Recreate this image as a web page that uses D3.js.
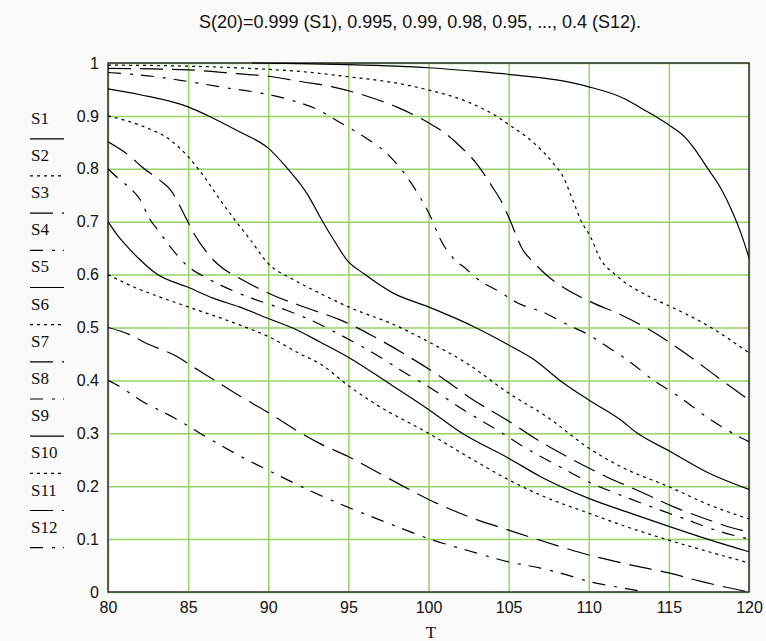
<!DOCTYPE html>
<html>
<head>
<meta charset="utf-8">
<script src="https://cdn.jsdelivr.net/npm/d3@7"></script>
<style>
  body { margin: 0; background: #fafafa; }
  svg { display: block; }
</style>
</head>
<body>
<div id="chart"></div>
<script>
// values: [T, S(T)]
var tTicks = [80, 85, 90, 95, 100, 105, 110, 115, 120];
var sTicks = [0, 0.1, 0.2, 0.3, 0.4, 0.5, 0.6, 0.7, 0.8, 0.9, 1];
var seriesNames = ["S1", "S2", "S3", "S4", "S5", "S6", "S7", "S8", "S9", "S10", "S11", "S12"];

var s1 = [[89, 1.0], [92, 0.999], [95, 0.997], [98, 0.994], [100, 0.991], [103, 0.984], [105.5, 0.977],
  [108, 0.968], [110, 0.955], [112.2, 0.933], [113.2, 0.916], [114, 0.902], [115, 0.883], [116, 0.86],
  [116.5, 0.842], [117.35, 0.804], [118.3, 0.76], [119, 0.716], [119.5, 0.678], [120, 0.632]];
var s2 = [[80, 0.996], [85, 0.994], [90, 0.988], [92, 0.984], [95, 0.974], [98, 0.962], [100, 0.949],
  [102.4, 0.927], [104.1, 0.902], [104.9, 0.886], [106.6, 0.848], [107.8, 0.81], [108.4, 0.785],
  [109, 0.741], [109.55, 0.70], [110.1, 0.672], [110.7, 0.631], [111.7, 0.599], [113.8, 0.558],
  [115, 0.541], [117.35, 0.505], [120, 0.452]];
var s3 = [[80, 0.99], [85, 0.987], [88, 0.98], [90, 0.975], [92, 0.965], [94, 0.955], [96.6, 0.933],
  [98, 0.917], [100, 0.887], [101, 0.868], [102.2, 0.836], [103, 0.81], [104, 0.765], [104.5, 0.741],
  [105, 0.709], [105.9, 0.646], [106.5, 0.625], [107.6, 0.593], [108.2, 0.58], [110, 0.55],
  [112, 0.524], [114, 0.492], [116, 0.452], [118, 0.407], [120, 0.363]];
var s4 = [[80, 0.982], [83, 0.974], [85, 0.965], [87.4, 0.953], [89, 0.946], [91.4, 0.93], [93, 0.913],
  [94.4, 0.889], [95.8, 0.864], [97.4, 0.829], [98.4, 0.795], [99.4, 0.75], [100.2, 0.705],
  [100.7, 0.669], [101.6, 0.629], [102.3, 0.612], [103, 0.593], [104.4, 0.568], [105.6, 0.546],
  [107.3, 0.527], [108.5, 0.508], [110, 0.486], [111.3, 0.461], [112.7, 0.432], [114, 0.401],
  [115.5, 0.372], [117.5, 0.328], [119.6, 0.29], [120, 0.284]];
var s5 = [[80, 0.951], [82, 0.94], [85, 0.917], [86.4, 0.898], [88.2, 0.87], [90, 0.839], [91.1, 0.804],
  [92.4, 0.754], [93.4, 0.70], [94.1, 0.665], [94.9, 0.628], [96, 0.601], [97.8, 0.565], [100, 0.539],
  [102.8, 0.502], [105, 0.467], [106.6, 0.439], [108.2, 0.40], [110, 0.363], [112, 0.325],
  [113, 0.301], [115, 0.267], [117.35, 0.227], [120, 0.194]];
var s6 = [[80, 0.9], [82.2, 0.88], [83.9, 0.854], [85, 0.823], [86, 0.785], [87, 0.741], [88, 0.70],
  [88.9, 0.665], [90, 0.621], [91.6, 0.59], [93.2, 0.565], [95, 0.539], [98.1, 0.502], [100, 0.473],
  [102.4, 0.432], [105, 0.376], [107.4, 0.331], [110, 0.272], [112.2, 0.234], [115, 0.199],
  [117.5, 0.165], [120, 0.138]];
var s7 = [[80, 0.851], [81.4, 0.823], [82.1, 0.804], [83.2, 0.779], [83.9, 0.76], [84.9, 0.705],
  [85.3, 0.681], [86.3, 0.637], [86.8, 0.621], [88.2, 0.593], [89, 0.58], [90.3, 0.561], [92.5, 0.536],
  [94.6, 0.513], [96.4, 0.486], [98.6, 0.448], [100.7, 0.408], [102.8, 0.363], [104.9, 0.325],
  [107, 0.284], [109, 0.25], [111.1, 0.218], [113.2, 0.19], [115.3, 0.161], [117.4, 0.137],
  [119.5, 0.117], [120, 0.114]];
var s8 = [[80, 0.8], [80.75, 0.779], [81.4, 0.763], [82, 0.742], [82.6, 0.705], [83.2, 0.681],
  [83.8, 0.656], [84.9, 0.618], [86.2, 0.593], [87.6, 0.572], [89, 0.555], [91.1, 0.533],
  [92.5, 0.516], [94.5, 0.486], [96.6, 0.451], [98.6, 0.413], [100, 0.388], [102.2, 0.344],
  [104.3, 0.306], [106.3, 0.268], [108, 0.24], [110, 0.208], [112, 0.183], [114, 0.16], [116, 0.138],
  [118, 0.116], [120, 0.10]];
var s9 = [[80, 0.7], [80.5, 0.678], [81.2, 0.653], [82, 0.628], [83, 0.602], [85, 0.576], [86.6, 0.555],
  [88.2, 0.539], [90, 0.517], [91.6, 0.498], [93.2, 0.473], [95.1, 0.442], [97.5, 0.395], [100, 0.345],
  [102, 0.302], [105, 0.253], [107, 0.218], [110, 0.177], [112.5, 0.15], [115, 0.124], [117.5, 0.099],
  [120, 0.076]];
var s10 = [[80, 0.6], [81.5, 0.578], [83.2, 0.558], [85, 0.539], [88.2, 0.505], [90, 0.483], [92, 0.45],
  [93.2, 0.432], [95, 0.39], [96.6, 0.357], [100, 0.30], [102.5, 0.255], [105, 0.212], [107, 0.183],
  [110, 0.149], [112.5, 0.122], [115, 0.098], [117.5, 0.076], [120, 0.055]];
var s11 = [[80, 0.5], [81.4, 0.486], [82.2, 0.473], [84.3, 0.445], [85.6, 0.42], [86.3, 0.407],
  [88.3, 0.369], [89.9, 0.341], [91.9, 0.303], [93.2, 0.281], [95, 0.256], [97.5, 0.215], [100, 0.175],
  [102.8, 0.139], [105, 0.117], [108.2, 0.086], [110, 0.07], [112.5, 0.052], [115, 0.036], [117, 0.02],
  [120, 0.0]];
var s12 = [[80, 0.4], [80.75, 0.388], [82, 0.363], [84.2, 0.328], [86.3, 0.29], [88.3, 0.256],
  [90.4, 0.224], [92.5, 0.193], [95, 0.16], [97.5, 0.13], [100, 0.101], [102.5, 0.078], [105, 0.057],
  [107, 0.045], [108.2, 0.036], [110, 0.02], [112.6, 0.005], [113.5, 0.0]];

var allSeries = [s1, s2, s3, s4, s5, s6, s7, s8, s9, s10, s11, s12];

// Mathcad trace styles: solid, dot, dash, dadot (repeat)
var dashStyles = [null, "3,4", "23,9", "13,9,3,8"];

var svgWidth = 766;
var svgHeight = 641;

var margin = {
  top: 63,
  right: 17,
  bottom: 49,
  left: 108
};

var width = svgWidth - margin.left - margin.right;
var height = svgHeight - margin.top - margin.bottom;

var svg = d3.select("#chart")
  .append("svg")
  .attr("width", svgWidth)
  .attr("height", svgHeight);

var chartGroup = svg.append("g")
  .attr("transform", `translate(${margin.left}, ${margin.top})`);

var xScale = d3.scaleLinear().domain([80, 120]).range([0, width]);
var yScale = d3.scaleLinear().domain([0, 1]).range([height, 0]);

// white plot area
chartGroup.append("rect")
  .attr("width", width)
  .attr("height", height)
  .attr("fill", "#ffffff");

// green grid
var gridColor = "#96d264";
chartGroup.append("g")
  .attr("transform", `translate(0, ${height})`)
  .call(d3.axisBottom(xScale).tickValues(tTicks).tickSize(-height).tickFormat(""))
  .call(g => g.select(".domain").remove())
  .call(g => g.selectAll("line").attr("stroke", gridColor).attr("stroke-width", 1.5));

chartGroup.append("g")
  .call(d3.axisLeft(yScale).tickValues(sTicks).tickSize(-width).tickFormat(""))
  .call(g => g.select(".domain").remove())
  .call(g => g.selectAll("line").attr("stroke", gridColor).attr("stroke-width", 1.5));

// frame
chartGroup.append("rect")
  .attr("width", width)
  .attr("height", height)
  .attr("fill", "none")
  .attr("stroke", "#3a3a3a")
  .attr("stroke-width", 1.6);

// curves
chartGroup.append("clipPath")
  .attr("id", "plotClip")
  .append("rect")
  .attr("x", 0).attr("y", -1)
  .attr("width", width).attr("height", height + 1);

var line = d3.line()
  .x(d => xScale(d[0]))
  .y(d => yScale(d[1]))
  .curve(d3.curveMonotoneX);

chartGroup.append("g")
  .attr("clip-path", "url(#plotClip)")
  .selectAll("path")
  .data(allSeries)
  .enter()
  .append("path")
  .attr("d", d => line(d))
  .attr("fill", "none")
  .attr("stroke", "#000")
  .attr("stroke-width", 1.2)
  .attr("stroke-dasharray", (d, i) => dashStyles[i % 4]);

// tick labels
var xAxis = chartGroup.append("g")
  .attr("transform", `translate(0, ${height})`)
  .call(d3.axisBottom(xScale).tickValues(tTicks).tickSize(0).tickPadding(6).tickFormat(d => d));
xAxis.select(".domain").remove();
xAxis.selectAll("text")
  .attr("font-family", "'Liberation Sans', Arial, sans-serif")
  .attr("font-size", "16px")
  .attr("fill", "#111")
  .attr("dy", "0.95em");

var yAxis = chartGroup.append("g")
  .call(d3.axisLeft(yScale).tickValues(sTicks).tickSize(0).tickPadding(9).tickFormat(d => String(+d.toFixed(1))));
yAxis.select(".domain").remove();
yAxis.selectAll("text")
  .attr("font-family", "'Liberation Sans', Arial, sans-serif")
  .attr("font-size", "16px")
  .attr("fill", "#111");

// axis title
svg.append("text")
  .attr("x", 431)
  .attr("y", 638)
  .attr("text-anchor", "middle")
  .attr("font-family", "'Liberation Serif', 'Times New Roman', serif")
  .attr("font-size", "17px")
  .attr("fill", "#111")
  .text("T");

// chart title
svg.append("text")
  .attr("x", 420)
  .attr("y", 28)
  .attr("text-anchor", "middle")
  .attr("font-family", "'Liberation Sans', Arial, sans-serif")
  .attr("font-size", "18px")
  .attr("textLength", 442)
  .attr("lengthAdjust", "spacingAndGlyphs")
  .attr("fill", "#111")
  .text("S(20)=0.999 (S1), 0.995, 0.99, 0.98, 0.95, ..., 0.4 (S12).");

// legend on the left: name with a line sample under it
var legend = svg.append("g");
var legendItems = legend.selectAll("g")
  .data(seriesNames)
  .enter()
  .append("g")
  .attr("transform", (d, i) => `translate(30, ${117.8 + i * 37.17})`);

legendItems.append("text")
  .attr("x", 1)
  .attr("y", 6)
  .attr("font-family", "'Liberation Serif', 'Times New Roman', serif")
  .attr("font-size", "17px")
  .attr("fill", "#111")
  .text(d => d);

legendItems.append("line")
  .attr("x1", 0)
  .attr("x2", 34)
  .attr("y1", 21)
  .attr("y2", 21)
  .attr("stroke", "#000")
  .attr("stroke-width", 1.2)
  .attr("stroke-dasharray", (d, i) => dashStyles[i % 4]);
</script>
</body>
</html>
